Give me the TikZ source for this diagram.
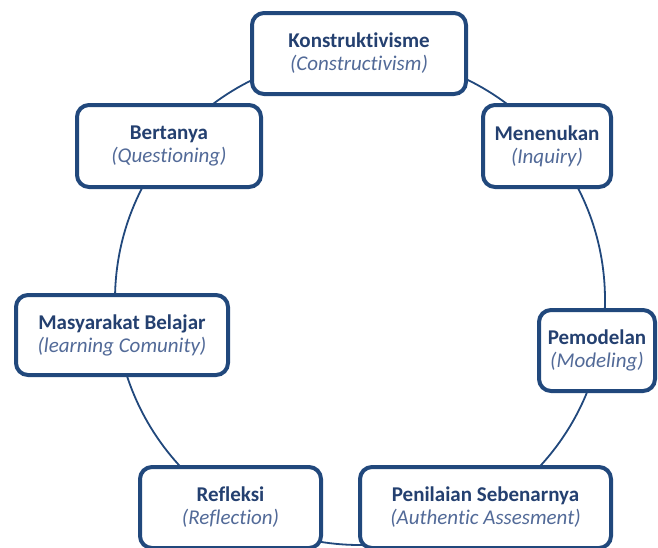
\documentclass[tikz,border=0pt]{standalone}
\usepackage{fontspec}
\setmainfont{Carlito}[Ligatures=NoCommon]
\usepackage{tikz}
\usepackage{xcolor}
\definecolor{boxblue}{RGB}{33,72,124}
\definecolor{titleblue}{RGB}{36,64,112}
\definecolor{subblue}{RGB}{82,106,152}
\tikzset{%
	cycle box/.style={
		draw=boxblue,
		fill=white,
		line width=4pt,
		rounded corners=12pt,
		align=center,
		inner sep=0pt,
		text=titleblue,
		font=\fontsize{21}{23}\selectfont
	},
	cycle ring/.style={
		draw=boxblue,
		line width=1.8pt
	},
}
\newcommand{\boxtext}[2]{\textbf{#1}\\{\color{subblue}\itshape (#2)}}

\begin{document}
\begin{tikzpicture}[x=1pt, y=-1pt]
			
			\useasboundingbox (0,0) rectangle (658,547);
			\clip (0,0) rectangle (658,547);
			
			\coordinate (hub) at (360,300);
			\draw[cycle ring] (hub) circle [radius=245];
			
			\node[cycle box, minimum width=214pt, minimum height=81pt] (konstruktivisme) at (359,53.5) {\boxtext{Konstruktivisme}{Constructivism}};
			\node[cycle box, minimum width=184pt, minimum height=82pt] (bertanya) at (169,146) {\boxtext{Bertanya}{Questioning}};
			\node[cycle box, minimum width=128pt, minimum height=82pt] (menenukan) at (547,146) {\boxtext{Menenukan}{Inquiry}};
			\node[cycle box, minimum width=212pt, minimum height=80pt] (masyarakat) at (122,335) {\boxtext{Masyarakat Belajar}{learning Comunity}};
			\node[cycle box, minimum width=116pt, minimum height=81pt] (pemodelan) at (597,350.5) {\boxtext{Pemodelan}{Modeling}};
			\node[cycle box, minimum width=181pt, minimum height=81pt] (refleksi) at (230.5,507.5) {\boxtext{Refleksi}{Reflection}};
			\node[cycle box, minimum width=251pt, minimum height=81pt] (penilaian) at (485.5,507.5) {\boxtext{Penilaian Sebenarnya}{Authentic Assesment}};
			
		\end{tikzpicture}
\end{document}
